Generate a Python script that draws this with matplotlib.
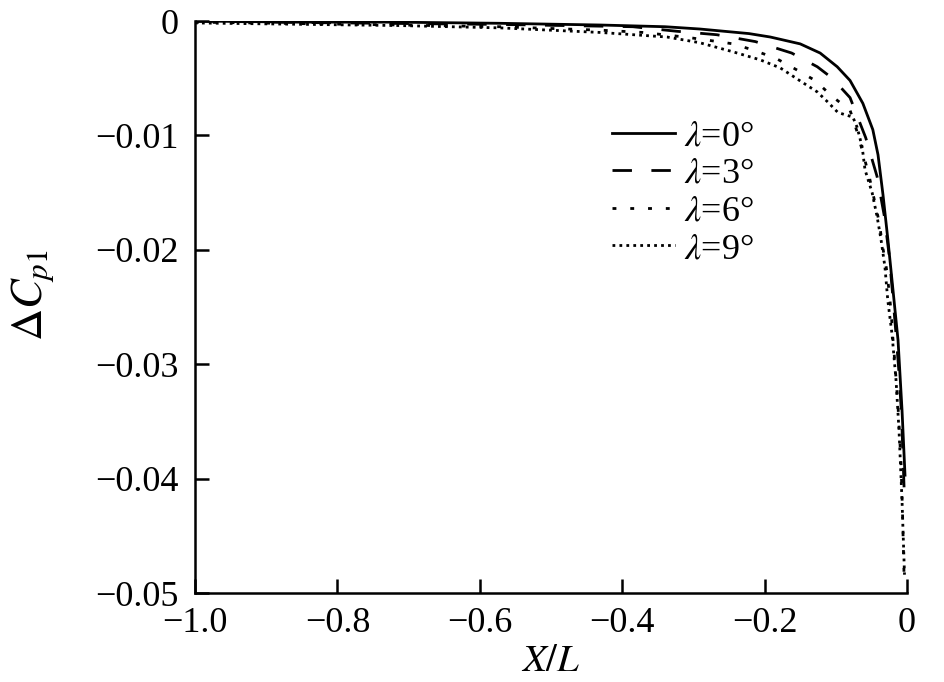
import numpy as np
import matplotlib
matplotlib.use("Agg")
import matplotlib.pyplot as plt

plt.rcParams['font.family'] = ['Liberation Serif', 'DejaVu Serif']
plt.rcParams['mathtext.fontset'] = 'stix'

# curve data (X/L, delta Cp1)
x_0 = [-1.0, -0.853, -0.722, -0.573, -0.431, -0.340, -0.291, -0.222, -0.192, -0.150, -0.122, -0.098, -0.080,
       -0.062, -0.048, -0.0407, -0.0337, -0.0267, -0.0197, -0.0126, -0.0070, -0.0028]
y_0 = [0.0, -0.0001, -0.0001, -0.0002, -0.00035, -0.0005, -0.0007, -0.0011, -0.0014, -0.0020, -0.0028, -0.0040, -0.0052,
       -0.0072, -0.0095, -0.0117, -0.0152, -0.0192, -0.0235, -0.0279, -0.0340, -0.0397]

x_3 = [-1.0, -0.853, -0.573, -0.385, -0.323, -0.267, -0.213, -0.162, -0.126, -0.105,
       -0.080, -0.058, -0.042, -0.032, -0.025, -0.020, -0.0154, -0.0112, -0.0077, -0.0056, -0.0035]
y_3 = [0.0, -0.00013, -0.0003, -0.0005, -0.0009, -0.0012, -0.0018, -0.0028, -0.0040, -0.0050,
       -0.0067, -0.0102, -0.0136, -0.0170, -0.0205, -0.0240, -0.0274, -0.0308, -0.0344, -0.0381, -0.0419]

x_6 = [-1.0, -0.712, -0.572, -0.431, -0.371, -0.312, -0.277, -0.244, -0.213, -0.183,
       -0.154, -0.129, -0.105, -0.080, -0.070, -0.062, -0.053, -0.046, -0.039, -0.034,
       -0.029, -0.025, -0.022, -0.020, -0.017, -0.0126, -0.0084, -0.0063, -0.0042]
y_6 = [-0.0001, -0.00035, -0.0005, -0.0008, -0.0010, -0.0014, -0.0017, -0.0020, -0.0026, -0.0033,
       -0.0043, -0.0052, -0.0066, -0.0078, -0.0097, -0.0115, -0.0136, -0.0156, -0.0176, -0.0198,
       -0.0216, -0.0237, -0.0257, -0.0276, -0.0299, -0.0337, -0.0386, -0.0430, -0.0483]

x_9 = [-1.0, -0.712, -0.572, -0.431, -0.337, -0.291, -0.244, -0.206, -0.178, -0.146,
       -0.126, -0.111, -0.097, -0.076, -0.070, -0.063, -0.059, -0.049, -0.042, -0.0365,
       -0.031, -0.027, -0.021, -0.0154, -0.0112, -0.0070, -0.0035]
y_9 = [-0.00017, -0.0004, -0.0006, -0.0010, -0.0014, -0.0019, -0.0027, -0.0034, -0.0041, -0.0054,
       -0.0062, -0.0071, -0.0080, -0.0084, -0.0093, -0.0110, -0.0130, -0.0150, -0.0171, -0.0191,
       -0.0215, -0.0244, -0.0274, -0.0314, -0.0358, -0.0419, -0.0484]

labels = [r'$\lambda$=0°', r'$\lambda$=3°', r'$\lambda$=6°', r'$\lambda$=9°']
xticks = [-1.0, -0.8, -0.6, -0.4, -0.2, 0.0]
xticklabels = ['\u22121.0', '\u22120.8', '\u22120.6', '\u22120.4', '\u22120.2', '0']
yticks = [0.0, -0.01, -0.02, -0.03, -0.04, -0.05]
yticklabels = ['0', '\u22120.01', '\u22120.02', '\u22120.03', '\u22120.04', '\u22120.05']

fig = plt.figure(figsize=(9.45, 6.82), dpi=100)
ax = fig.add_axes([195/945, 1-593/682, 712/945, 572/682])

lw = 2.0
ax.plot(x_0, y_0, color='black', lw=lw, linestyle='-', label=labels[0])
ax.plot(x_3, y_3, color='black', lw=lw, linestyle=(0, (7.0, 7.0)), label=labels[1])
ax.plot(x_6, y_6, color='black', lw=lw, linestyle=(0, (1.4, 5.0)), label=labels[2])
ax.plot(x_9, y_9, color='black', lw=lw, linestyle=(0, (1.0, 1.5)), label=labels[3])

ax.set_xlim(-1.0, 0.0)
ax.set_ylim(-0.05, 0.0)
ax.set_xticks(xticks, xticklabels)
ax.set_yticks(yticks, yticklabels)
ax.tick_params(direction='in', length=10, width=1.8, labelsize=26, pad=10)
ax.tick_params(axis='y', pad=12)
for s in ['top', 'right']:
    ax.spines[s].set_visible(False)
for s in ['left', 'bottom']:
    ax.spines[s].set_linewidth(1.8)

ax.set_xlabel('$X/L$', fontsize=28, labelpad=2)
ax.set_ylabel(r'$\Delta C_{p\mathrm{1}}$', fontsize=32)
ax.yaxis.set_label_coords(-0.195, 0.52)

leg = ax.legend(loc='upper left', bbox_to_anchor=(612/945, 1-120/682), bbox_transform=fig.transFigure,
                frameon=False, fontsize=26, handlelength=1.75, handletextpad=0.25,
                labelspacing=0.12, borderpad=0, borderaxespad=0)

fig.savefig('out.png', dpi=100)
